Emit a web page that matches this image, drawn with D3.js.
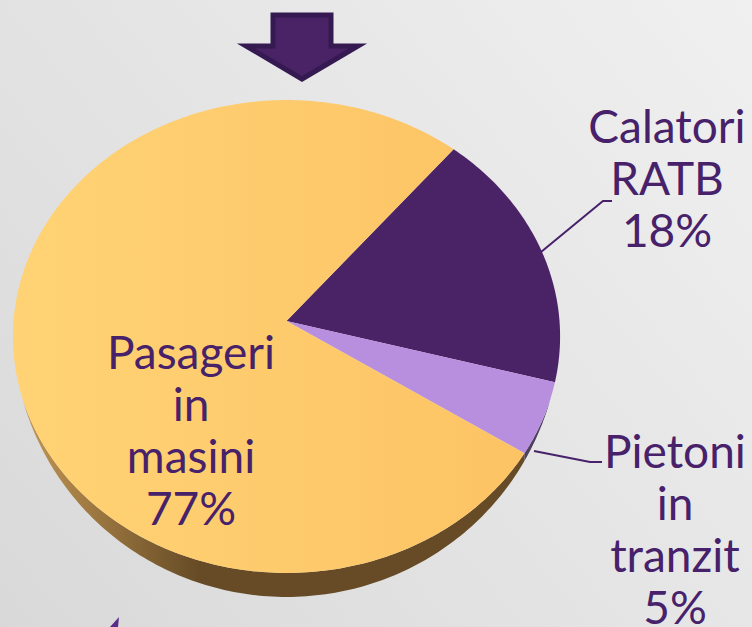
<!DOCTYPE html>
<html>
<head>
<meta charset="utf-8">
<script src="https://cdn.jsdelivr.net/npm/d3@7"></script>
<style>
  html, body { margin: 0; padding: 0; overflow: hidden; background: #e4e4e4; }
  text { font-family: Lato, sans-serif; fill: #47216a; }
</style>
</head>
<body>
<div id="chart"></div>
<script>
var categories = ["Calatori RATB", "Pietoni in tranzit", "Pasageri in masini"];
var shares = [18, 5, 77];
var labelLines = [["Calatori", "RATB", "18%"], ["Pietoni", "in", "tranzit", "5%"], ["Pasageri", "in", "masini", "77%"]];
var topColors = ["#4a2366", "#b88fdf", "url(#topGrad)"];
var wallColors = ["#2e1640", "#4f4060", "url(#wallGrad)"];

var width = 752, height = 627;
var cx = 286.5, apexY = 321, rx = 273;
var tilt = 0.0655, yScale = -214.4, depth = 24;
// the wall fades out where the rim reaches this height on the unit circle
var wallEdge = -0.32;

// tilted disc: unit circle -> screen, centre stays on the apex
function project(a, drop) {
  var ux = Math.sin(a), uy = Math.cos(a), w = 1 + tilt * uy;
  return [cx + rx * ux / w, (yScale * uy + apexY) / w + (drop || 0)];
}
function wallDrop(a) {
  return depth * Math.max(0, (wallEdge - Math.cos(a)) / (1 + wallEdge));
}
function arcPoints(a0, a1, withDrop) {
  var n = Math.max(2, Math.ceil((a1 - a0) * 60));
  return d3.range(n + 1).map(function(i) {
    var a = a0 + (a1 - a0) * i / n;
    return project(a, withDrop ? wallDrop(a) : 0);
  });
}

var svg = d3.select("#chart").append("svg")
  .attr("width", width)
  .attr("height", height)
  .style("display", "block");

var defs = svg.append("defs");
function gradient(id, x1, y1, x2, y2, stops) {
  var g = defs.append("linearGradient").attr("id", id)
    .attr("gradientUnits", "userSpaceOnUse")
    .attr("x1", x1).attr("y1", y1).attr("x2", x2).attr("y2", y2);
  stops.forEach(function(s) {
    g.append("stop").attr("offset", s[0]).attr("stop-color", s[1]);
  });
}
gradient("bgGrad", 752, 0, 0, 627, [[0, "#f0f0f0"], [1, "#d9d9d9"]]);
gradient("topGrad", 13, 0, 560, 0, [[0, "#ffd375"], [1, "#fcc263"]]);
gradient("wallGrad", 13, 0, 530, 0, [[0, "#c79a55"], [0.36, "#664b26"], [1, "#664b26"]]);

svg.append("rect").attr("width", width).attr("height", height).attr("fill", "url(#bgGrad)");

// slices start at 40deg clockwise from the top
var startAngle = 40 * Math.PI / 180;
var pie = d3.pie().sort(null).startAngle(startAngle).endAngle(startAngle + 2 * Math.PI);
var slices = pie(shares);
var line = d3.line();

// side wall first, only the front of the rim shows
var wallFrom = Math.acos(wallEdge), wallTo = 2 * Math.PI - wallFrom;
svg.append("g").selectAll("path")
  .data(slices)
  .enter()
  .append("path")
  .attr("fill", function(d, i) { return wallColors[i]; })
  .attr("d", function(d) {
    var a0 = Math.max(d.startAngle, wallFrom), a1 = Math.min(d.endAngle, wallTo);
    if (a1 <= a0) return null;
    return line(arcPoints(a0, a1, false).concat(arcPoints(a0, a1, true).reverse())) + "Z";
  });

// top of the disc
svg.append("g").selectAll("path")
  .data(slices)
  .enter()
  .append("path")
  .attr("fill", function(d, i) { return topColors[i]; })
  .attr("d", function(d) {
    return line([[cx, apexY]].concat(arcPoints(d.startAngle, d.endAngle, false))) + "Z";
  });

// leader lines
var leaders = [[[541, 252], [603, 201], [612, 201]], [[534, 451], [590, 462], [602, 462]]];
svg.append("g").selectAll("path")
  .data(leaders)
  .enter()
  .append("path")
  .attr("fill", "none")
  .attr("stroke", "#47216a")
  .attr("stroke-width", 2)
  .attr("d", line);

// labels
var labelPos = [{x: 667, y: 143}, {x: 675, y: 468}, {x: 191, y: 369}];
var lineGap = 52;
labelLines.forEach(function(lines, i) {
  svg.append("text")
    .attr("text-anchor", "middle")
    .attr("font-size", 46)
    .selectAll("tspan")
    .data(lines)
    .enter()
    .append("tspan")
    .attr("x", labelPos[i].x)
    .attr("y", function(d, j) { return labelPos[i].y + j * lineGap; })
    .text(function(d) { return d; });
});

// arrow above the pie
svg.append("path")
  .attr("d", "M273,15H331V46H358L302,79L246,46H273Z")
  .attr("fill", "#4a2366")
  .attr("stroke", "#351a52")
  .attr("stroke-width", 5);

// tip of the second arrow, cut by the bottom edge
svg.append("path")
  .attr("d", "M119,617L110,627H118Z")
  .attr("fill", "#5b2d8a");
</script>
</body>
</html>
